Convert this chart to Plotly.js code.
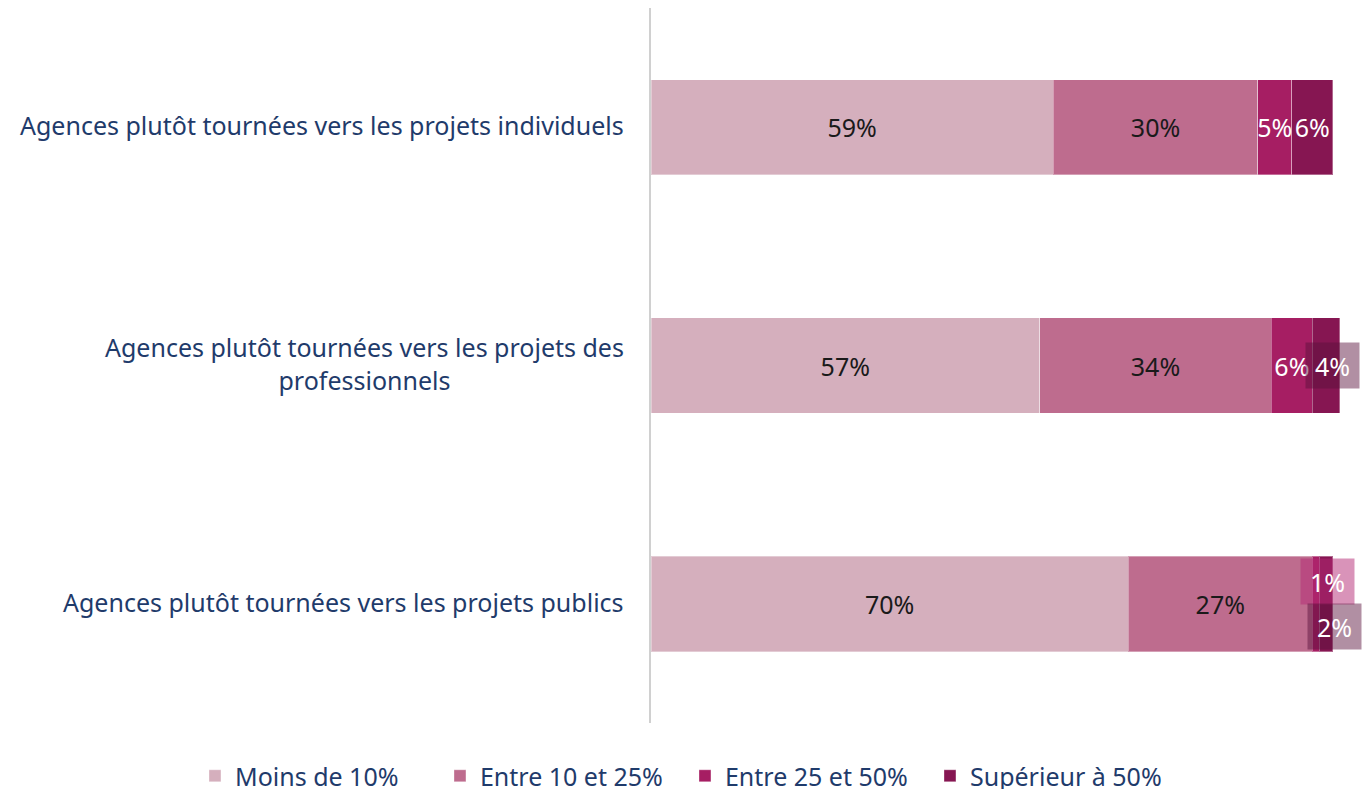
<!DOCTYPE html>
<html>
<head>
<meta charset="utf-8">
<script src="https://cdn.plot.ly/plotly-3.0.1.min.js"></script>
<style>html,body{margin:0;padding:0;background:#fff;}#chart{width:1371px;height:789px;}</style>
</head>
<body>
<div id="chart"></div>
<script>
// ---- data ----
const categories = [
  "Agences plutôt tournées vers les projets individuels",
  "Agences plutôt tournées vers les projets des<br>professionnels",
  "Agences plutôt tournées vers les projets publics"
];
const seriesNames = ["Moins de 10%", "Entre 10 et 25%", "Entre 25 et 50%", "Supérieur à 50%"];
const moinsDe10 = [59, 57, 70];
const entre10et25 = [30, 34, 27];
const entre25et50 = [5, 6, 1];
const superieur50 = [6, 4, 2];
const seriesValues = [moinsDe10, entre10et25, entre25et50, superieur50];

// ---- styles ----
const colors = ["#D5AFBD", "#BE6C8E", "#A61E63", "#861652"];
const textColors = ["#1a1a1a", "#1a1a1a", "#ffffff", "#ffffff"];
const FONT = "Noto Sans, sans-serif";
const NAVY = "#1F3B6B";
const FS = 25;
// labels drawn as offset call-out boxes: [seriesIndex, categoryIndex, xshift, yshift, bgcolor]
const callouts = [
  [3, 1, 7, 0, "rgba(90,16,60,0.47)"],
  [2, 2, 12, 22, "rgba(180,40,115,0.5)"],
  [3, 2, 9, -23, "rgba(90,16,60,0.47)"]
];

const isCallout = (s, c) => callouts.some(k => k[0] === s && k[1] === c);

const traces = seriesValues.map((vals, s) => ({
  type: "bar",
  orientation: "h",
  name: seriesNames[s],
  y: categories,
  x: vals,
  text: vals.map((v, c) => isCallout(s, c) ? "" : v + "%"),
  texttemplate: "%{text}",
  textposition: "inside",
  insidetextanchor: "middle",
  constraintext: "none",
  textangle: 0,
  insidetextfont: {family: FONT, size: FS, color: textColors[s]},
  marker: {color: colors[s], line: {color: "rgba(255,255,255,0.35)", width: 1}},
  hoverinfo: "none"
}));

const annotations = [];
categories.forEach((cat, c) => {
  annotations.push({
    xref: "paper", x: 0, xanchor: "right", xshift: -25, yshift: 2,
    yref: "y", y: cat, yanchor: "middle",
    text: cat, align: "center", showarrow: false,
    font: {family: FONT, size: FS, color: NAVY}
  });
});
callouts.forEach(([s, c, dx, dy, bg]) => {
  let start = 0;
  for (let i = 0; i < s; i++) start += seriesValues[i][c];
  const v = seriesValues[s][c];
  annotations.push({
    xref: "x", x: start + v / 2, yref: "y", y: categories[c],
    xshift: dx, yshift: dy,
    text: v + "%", showarrow: false,
    bgcolor: bg, width: 53, height: 45, borderpad: 0,
    font: {family: FONT, size: FS, color: "#ffffff"}
  });
});

const layout = {
  width: 1371, height: 789,
  margin: {l: 651, r: 28, t: 8, b: 66, autoexpand: false},
  barmode: "stack",
  bargap: 0.6,
  paper_bgcolor: "#ffffff",
  plot_bgcolor: "#ffffff",
  font: {family: FONT, size: FS, color: NAVY},
  xaxis: {range: [0, 101.5], visible: false, fixedrange: true},
  yaxis: {
    autorange: "reversed", showticklabels: false, ticks: "",
    showline: true, linecolor: "#D0D0D0", linewidth: 2,
    showgrid: false, zeroline: false, fixedrange: true
  },
  showlegend: true,
  legend: {
    orientation: "h", x: -0.659, xanchor: "left",
    y: -0.042, yanchor: "top",
    entrywidth: 200, entrywidthmode: "pixels",
    font: {family: FONT, size: FS, color: NAVY},
    traceorder: "normal"
  },
  annotations: annotations
};

Plotly.newPlot("chart", traces, layout, {displayModeBar: false, staticPlot: true});
</script>
</body>
</html>
